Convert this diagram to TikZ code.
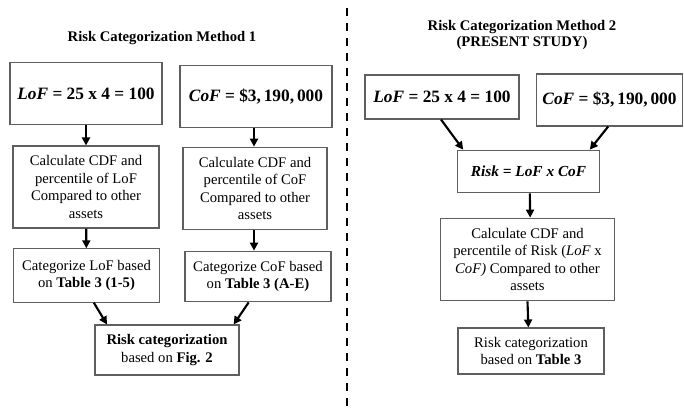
\documentclass[tikz,border=0pt]{standalone}
\usepackage{fontspec}
\setmainfont{Liberation Serif}
\usetikzlibrary{arrows.meta,positioning,calc}
\definecolor{boxgray}{RGB}{95,95,95}

\begin{document}
\begin{tikzpicture}[x=0.75pt,y=-0.75pt,
  box/.style={draw=boxgray, line width=0.8pt, align=center, inner sep=2pt,
    font=\fontsize{11}{13.2}\selectfont},
  eqn/.style={box, font=\fontsize{13}{15}\selectfont\bfseries},
  ttl/.style={align=center, font=\fontsize{11}{12}\selectfont\bfseries},
  arrow/.style={-{Triangle[length=6pt,width=6pt]}, line width=1.6pt, draw=black}
]
\useasboundingbox (0,0) rectangle (684,407);

% method 1
\node[ttl] (t1) at (162,38) {Risk Categorization Method 1};
\node[eqn, minimum width=114pt, minimum height=46pt] (lof1) at (86,93.5)
  {\textit{LoF} = 25 x 4 = 100};
\node[eqn, minimum width=114pt, minimum height=46pt] (cof1) at (256,96.5)
  {\textit{CoF} = \$3,\,190,\,000};
\node[box, minimum width=109.5pt, minimum height=61.5pt] (cdf1) at (86,187)
  {Calculate CDF and\\ percentile of LoF\\ Compared to other\\ assets};
\node[box, minimum width=108pt, minimum height=62pt] (cdf2) at (255,188.5)
  {Calculate CDF and\\ percentile of CoF\\ Compared to other\\ assets};
\node[box, minimum width=109pt, minimum height=40pt] (cat1) at (86.5,275.5)
  {Categorize LoF based\\ on \textbf{Table 3 (1-5)}};
\node[box, minimum width=109.5pt, minimum height=38pt] (cat2) at (258,276.5)
  {Categorize CoF based\\ on \textbf{Table 3 (A-E)}};
\node[box, minimum width=108pt, minimum height=37.5pt] (risk1) at (167,350)
  {\textbf{Risk categorization}\\ based on \textbf{Fig. 2}};

\draw[arrow] (lof1) -- (cdf1);
\draw[arrow] ([xshift=-1.5pt]cof1.south) -- ([xshift=-0.75pt]cdf2.north);
\draw[arrow] (cdf1) -- (cat1);
\draw[arrow] ([xshift=-0.75pt]cdf2.south) -- ([xshift=-3pt]cat2.north);
\draw[arrow] ([xshift=5.5pt]cat1.south) -- ([xshift=-45pt]risk1.north);
\draw[arrow] ([xshift=-7pt]cat2.south) -- ([xshift=50pt]risk1.north);

% divider
\draw[line width=2pt, dash pattern=on 6pt off 5.25pt] (347,8) coordinate (d1) -- (347,407) coordinate (d2);

% method 2
\node[ttl] (t2) at (522,35) {Risk Categorization Method 2\\ (PRESENT STUDY)};
\node[eqn, minimum width=115.5pt, minimum height=33pt] (lof2) at (442,97)
  {\textit{LoF} = 25 x 4 = 100};
\node[eqn, minimum width=110pt, minimum height=39pt] (cof2) at (609.5,100)
  {\textit{CoF} = \$3,\,190,\,000};
\node[box, minimum width=107pt, minimum height=32pt,
  font=\fontsize{11.5}{13}\selectfont\bfseries\itshape] (req) at (528.5,171.5)
  {Risk = LoF x CoF};
\node[box, minimum width=131pt, minimum height=62pt] (cdf3) at (527.5,259.5)
  {Calculate CDF and\\ percentile of Risk (\textit{LoF} x\\ \textit{CoF)} Compared to other\\ assets};
\node[box, minimum width=109.5pt, minimum height=34.5pt] (fin) at (531,351)
  {Risk categorization\\ based on \textbf{Table 3}};

\draw[arrow] ([xshift=-0.75pt]lof2.south) -- ([xshift=-49pt]req.north);
\draw[arrow] ([xshift=-1pt]cof2.south) -- ([xshift=46pt]req.north);
\draw[arrow] ([xshift=1pt]req.south) -- ([xshift=2pt]cdf3.north);
\draw[arrow] (cdf3.south) -- ([xshift=-2pt]fin.north);
\end{tikzpicture}
\end{document}
